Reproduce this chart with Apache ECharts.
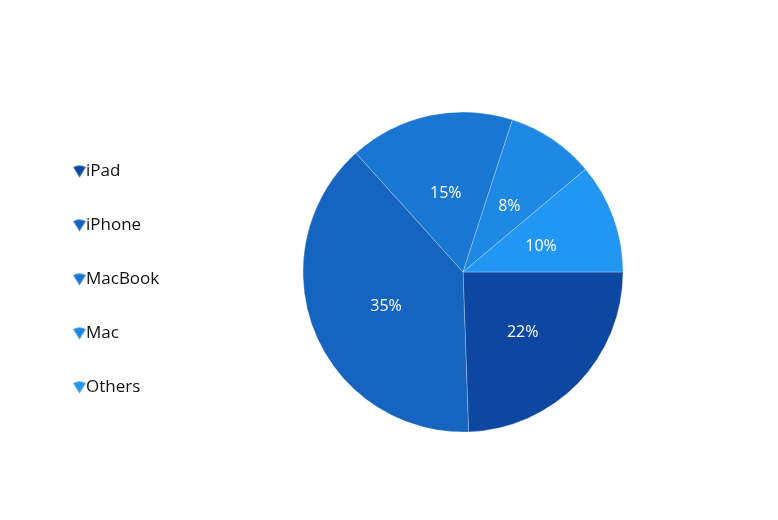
<!DOCTYPE html>
<html><head><meta charset="utf-8">
<script src="https://cdn.jsdelivr.net/npm/echarts@6/dist/echarts.min.js"></script>
<style>html,body{margin:0;padding:0;background:#fff}#c{width:778px;height:520px}</style>
</head><body><div id="c"></div>
<script>
const categories = ["iPad", "iPhone", "MacBook", "Mac", "Others"];
const values = [22, 35, 15, 8, 10];
const colors = ["#0D47A1", "#1565C0", "#1976D2", "#1E88E5", "#2196F3"];

const chart = echarts.init(document.getElementById('c'));
chart.setOption({
  animation: false,
  color: colors,
  textStyle: { fontFamily: "Open Sans, Noto Sans, sans-serif" },
  legend: {
    orient: 'vertical',
    left: 67,
    top: 158,
    itemGap: 37,
    itemWidth: 13,
    itemHeight: 13,
    icon: 'path://M0,2 Q5,-1 10,2 L5,10 Z',
    textStyle: { fontSize: 17, color: '#111', padding: [0,0,0,-5] },
    data: categories
  },
  series: [{
    type: 'pie',
    center: [463, 272],
    radius: 160,
    startAngle: 0,
    clockwise: true,
    label: {
      show: true,
      position: 'inside',
      formatter: '{c}%',
      color: '#fff',
      fontSize: 16,
      offset: [0, 3]
    },
    labelLine: { show: false },
    itemStyle: { borderColor: 'rgba(255,255,255,0.25)', borderWidth: 1 },
    emphasis: { disabled: true },
    data: categories.map((n, i) => ({ name: n, value: values[i] }))
  }]
});
</script></body></html>
